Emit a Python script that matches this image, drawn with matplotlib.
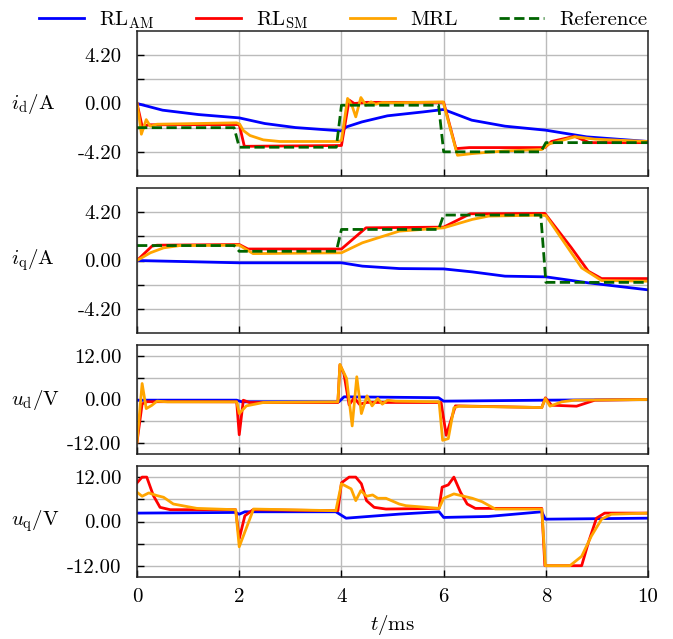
import matplotlib
matplotlib.use('Agg')
import matplotlib.pyplot as plt

plt.rcParams['font.family'] = 'cmr10'
plt.rcParams['mathtext.fontset'] = 'cm'
plt.rcParams['axes.unicode_minus'] = False
plt.rcParams['axes.formatter.use_mathtext'] = True

# reference step signals (shared time base)
t_ref = [0, 1.9, 2.0, 3.9, 4.0, 5.9, 6.0, 7.9, 8.0, 10]
id_ref = [-2.1, -2.1, -3.8, -3.8, -0.15, -0.15, -4.2, -4.2, -3.4, -3.4]
iq_ref = [1.3, 1.3, 0.8, 0.8, 2.7, 2.7, 3.95, 3.95, -1.9, -1.9]

# i_d
t_id_am = [0, 0.5, 1.2, 2.0, 2.5, 3.1, 4.0, 4.1, 4.4, 4.9, 5.6, 6.0, 6.55, 7.2, 8.0, 8.8, 10]
id_am = [0, -0.58, -0.96, -1.25, -1.74, -2.09, -2.38, -2.03, -1.6, -1.07, -0.73, -0.52, -1.45, -1.97, -2.32, -2.9, -3.3]
t_id_sm = [0, 0.1, 0.25, 1.95, 2.0, 2.1, 3.95, 4.0, 4.15, 4.25, 4.5, 6.0, 6.24, 6.5, 7.98, 8.11, 8.56, 8.85, 10]
id_sm = [0, -1.97, -1.85, -1.83, -1.83, -3.72, -3.65, -3.65, 0.3, 0.0, 0.1, 0.1, -3.92, -3.83, -3.83, -3.3, -2.85, -3.4, -3.4]
t_id_mrl = [0, 0.05, 0.085, 0.18, 0.26, 0.39, 1.17, 1.95, 2.01, 2.08, 2.21, 2.47, 2.79, 3.95, 4.0, 4.12, 4.21,
            4.28, 4.38, 4.48, 4.58, 4.67, 4.8, 5.06, 5.99, 6.27, 6.56, 7.2, 7.92, 8.05, 8.57, 8.96, 10]
id_mrl = [0, -1.45, -2.67, -1.4, -1.97, -1.8, -1.74, -1.68, -1.8, -2.35, -2.78, -3.16, -3.3, -3.3, -3.2, 0.44, -0.23,
          -1.16, 0.52, -0.15, 0.14, -0.06, 0.08, 0.06, 0.14, -4.5, -4.35, -4.12, -4.0, -3.53, -2.89, -3.1, -3.3]

# i_q
t_iq_am = [0, 2.0, 4.0, 4.41, 5.13, 6.0, 6.56, 7.2, 8.0, 8.83, 10]
iq_am = [0, -0.2, -0.2, -0.49, -0.7, -0.73, -0.99, -1.36, -1.42, -1.94, -2.55]
t_iq_sm = [0, 0.29, 0.39, 2.0, 2.17, 4.0, 4.48, 6.0, 6.52, 7.98, 8.5, 8.83, 9.09, 10]
iq_sm = [0, 1.24, 1.33, 1.39, 1.0, 1.0, 2.84, 2.9, 4.06, 4.09, 1.1, -0.93, -1.57, -1.57]
t_iq_mrl = [0, 0.26, 0.52, 0.84, 2.0, 2.27, 4.0, 4.41, 5.13, 5.58, 6.0, 6.56, 6.88, 7.92, 8.0, 8.7, 9.09, 10]
iq_mrl = [0, 0.67, 1.1, 1.3, 1.33, 0.6, 0.67, 1.54, 2.55, 2.7, 2.84, 3.57, 3.86, 3.94, 3.9, -0.64, -1.74, -1.8]

# u_d
t_ud_am = [0, 1.95, 2.05, 3.95, 4.05, 5.9, 6.0, 8.0, 10]
ud_am = [-0.18, -0.18, -0.64, -0.64, 0.74, 0.5, -0.46, -0.18, 0]
t_ud_sm = [0, 0.1, 0.2, 1.95, 2.0, 2.08, 2.2, 3.93, 3.97, 4.05, 4.15, 4.25, 4.35, 4.5, 5.95, 6.05, 6.23,
           7.92, 7.99, 8.11, 8.6, 8.96, 10]
ud_sm = [-11.7, -1.2, -0.6, -0.64, -9.7, -0.2, -0.83, -0.83, 9.5, 7.0, -1.5, 0.5, -1.3, -0.8, -0.83, -9.85, -1.75,
         -2.21, 0.46, -1.57, -1.84, -0.18, 0]
t_ud_mrl = [0, 0.1, 0.18, 0.29, 0.39, 0.6, 1.95, 2.0, 2.14, 2.47, 3.93, 3.97, 4.1, 4.21, 4.3, 4.39, 4.5, 4.6,
            4.71, 4.8, 4.9, 5.06, 5.91, 5.98, 6.09, 6.2, 6.3, 7.92, 7.99, 8.08, 8.31, 8.57, 10]
ud_mrl = [-11.7, 4.4, -2.5, -1.6, -0.46, -0.64, -0.64, -3.87, -1.75, -0.83, -0.64, 9.67, 5.8, -7.27, 6.26, -3.87,
          1.01, -1.75, 0.28, -1.29, -0.18, -0.46, -0.64, -11.23, -10.77, -2.3, -1.84, -2.21, 0.28, -1.84, -0.64, -0.18, 0]

# u_q
t_uq_am = [0, 1.93, 2.0, 2.11, 3.89, 4.09, 5.13, 5.91, 6.0, 6.88, 7.92, 7.99, 10]
uq_am = [2.27, 2.45, 1.97, 2.63, 2.63, 0.9, 2.0, 2.63, 1.1, 1.37, 2.63, 0.63, 0.9]
t_uq_sm = [0, 0.1, 0.19, 0.32, 0.45, 0.65, 1.93, 2.0, 2.11, 2.27, 3.93, 4.0, 4.15, 4.28, 4.39, 4.49, 4.64, 4.87,
           5.91, 5.97, 6.09, 6.2, 6.33, 6.46, 6.62, 7.92, 7.98, 8.7, 8.83, 8.99, 9.15, 10]
uq_sm = [10.46, 12.0, 12.0, 7.0, 3.83, 3.19, 3.19, -4.65, 1.55, 3.19, 2.92, 10.46, 12.0, 12.0, 10.2, 5.64, 3.83, 3.37,
         3.55, 9.28, 9.9, 12.0, 7.9, 4.73, 3.55, 3.55, -11.94, -11.94, -5.74, 0.9, 2.27, 2.27]
t_uq_mrl = [0, 0.1, 0.23, 0.39, 0.52, 0.71, 1.17, 1.93, 2.0, 2.28, 3.89, 4.0, 4.19, 4.28, 4.38, 4.49, 4.61, 4.71,
            4.87, 5.13, 5.26, 5.91, 6.0, 6.2, 6.56, 6.75, 7.01, 7.92, 7.99, 8.47, 8.7, 8.89, 9.09, 9.28, 10]
uq_mrl = [7.9, 6.82, 7.73, 7.0, 6.55, 4.73, 3.55, 3.19, -6.83, 3.37, 2.92, 10.2, 8.82, 5.64, 8.36, 6.82, 7.18, 6.28,
          6.28, 4.73, 4.28, 3.55, 6.28, 7.46, 6.28, 5.36, 3.37, 3.37, -11.94, -11.94, -9.4, -3.93, 0.63, 1.97, 2.27]

ylabels = [r'$i_\mathrm{d}$/A', r'$i_\mathrm{q}$/A', r'$u_\mathrm{d}$/V', r'$u_\mathrm{q}$/V']
xticks = [0, 2, 4, 6, 8, 10]
cur_ticks = [-4.2, -2.1, 0, 2.1, 4.2]
cur_labels = ['-4.20', '', '0.00', '', '4.20']
volt_ticks = [-12, -6, 0, 6, 12]
volt_labels = ['-12.00', '', '0.00', '', '12.00']

fig, axes = plt.subplots(4, 1, sharex=True, figsize=(6.73, 6.39), dpi=100,
                         gridspec_kw={'height_ratios': [145, 145, 109, 111]})
fig.subplots_adjust(left=0.2036, right=0.963, top=0.9515, bottom=0.097, hspace=0.094)

lw = 2.0
ax = axes[0]
ax.plot(t_id_am, id_am, color='blue', lw=lw, label=r'RL$_\mathrm{AM}$')
ax.plot(t_id_sm, id_sm, color='red', lw=lw, label=r'RL$_\mathrm{SM}$')
ax.plot(t_id_mrl, id_mrl, color='orange', lw=lw, label='MRL')
ax.plot(t_ref, id_ref, color='darkgreen', lw=lw, linestyle='--', label='Reference')

ax = axes[1]
ax.plot(t_iq_am, iq_am, color='blue', lw=lw)
ax.plot(t_iq_sm, iq_sm, color='red', lw=lw)
ax.plot(t_iq_mrl, iq_mrl, color='orange', lw=lw)
ax.plot(t_ref, iq_ref, color='darkgreen', lw=lw, linestyle='--')

ax = axes[2]
ax.plot(t_ud_am, ud_am, color='blue', lw=lw)
ax.plot(t_ud_sm, ud_sm, color='red', lw=lw)
ax.plot(t_ud_mrl, ud_mrl, color='orange', lw=lw)

ax = axes[3]
ax.plot(t_uq_am, uq_am, color='blue', lw=lw)
ax.plot(t_uq_sm, uq_sm, color='red', lw=lw)
ax.plot(t_uq_mrl, uq_mrl, color='orange', lw=lw)

for i, ax in enumerate(axes):
    if i < 2:
        ax.set_ylim(-6.3, 6.3)
        ax.set_yticks(cur_ticks)
        ax.set_yticklabels(cur_labels)
    else:
        ax.set_ylim(-15, 15)
        ax.set_yticks(volt_ticks)
        ax.set_yticklabels(volt_labels)
    ax.set_xlim(0, 10)
    ax.set_xticks(xticks)
    ax.grid(True, color='#bbbbbb', lw=1.0)
    ax.set_axisbelow(True)
    ax.tick_params(direction='in', labelsize=15, length=5, width=1)
    ax.tick_params(axis='y', pad=11)
    ax.tick_params(axis='x', pad=8)
    for s in ax.spines.values():
        s.set_color('#222222')
        s.set_linewidth(1.1)
    ax.set_ylabel(ylabels[i], fontsize=15, rotation=0, ha='left', va='center')
    ax.yaxis.set_label_coords(-0.247, 0.5)

axes[3].set_xticklabels([str(x) for x in xticks])
axes[3].set_xlabel(r'$t$/ms', fontsize=15, labelpad=5)

fig.legend(loc='upper center', bbox_to_anchor=(0.51, 1.015), ncol=4, frameon=False, fontsize=15,
           handlelength=2.16, handletextpad=0.72, columnspacing=2.0)

plt.savefig('out.png', dpi=100)
